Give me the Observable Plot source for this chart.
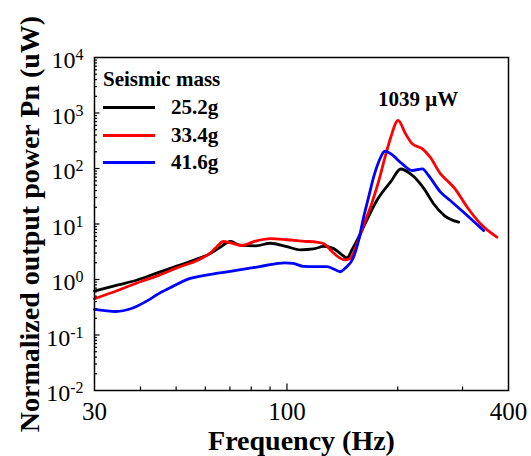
<!DOCTYPE html>
<html><head><meta charset="utf-8">
<script src="https://cdn.jsdelivr.net/npm/d3@7"></script>
<script src="https://cdn.jsdelivr.net/npm/@observablehq/plot@0.6"></script>
<style>
html,body{margin:0;padding:0;background:#fff;}
#chart{position:relative;width:531px;height:456px;font-family:"Liberation Serif","Times New Roman",serif;}
#legend{position:absolute;left:103px;top:66px;font-weight:bold;font-size:21px;color:#000;line-height:1;}
#legend .row{display:flex;align-items:center;height:27.7px;}
#legend .sw{width:52px;height:3px;margin-right:16px;}
</style></head><body><div id="chart"></div>
<script>
// ---- data ----
const seriesNames = ["25.2g", "33.4g", "41.6g"];
const seriesColors = ["#000000", "#ff0000", "#0000ff"];
const legendTitle = "Seismic mass";
const peakLabel = "1039 μW";
const xTitle = "Frequency (Hz)";
const yTitle = "Normalized output power Pn (uW)";
const xTickLabels = [30, 100, 400];
const yTickLabels = [1e-2, 1e-1, 1e0, 1e1, 1e2, 1e3, 1e4];

const freqBlack  = [30, 34.8, 39.2, 43.5, 50, 56, 61, 65, 70.3, 74.6, 82.4, 90.2, 100, 108.8, 118, 126, 134, 140, 145.6, 150.5, 155, 164.6, 175.5, 191.5, 203.9, 216.7, 236, 250, 267.8, 293];
const powerBlack = [0.62, 0.8, 0.98, 1.25, 1.72, 2.25, 2.8, 3.6, 4.84, 4.15, 4.05, 4.5, 3.9, 3.43, 3.55, 3.95, 3.6, 2.9, 2.46, 3.5, 5.04, 11.5, 26.5, 58, 98, 80, 43, 23.4, 14.2, 10.8];

const freqRed  = [30, 34.8, 40.3, 45, 50, 57.8, 61.3, 64, 67.3, 70, 75.4, 82, 90.2, 100, 110, 120.6, 126, 133.2, 139, 144.3, 148.6, 155, 161.6, 170.2, 177.4, 185, 191.5, 200.5, 210, 219, 233.6, 245, 261.5, 275.4, 284, 309, 335.6, 372];
const powerRed = [0.45, 0.64, 0.93, 1.2, 1.6, 2.3, 2.85, 3.7, 4.84, 4.6, 4.1, 4.9, 5.45, 5.2, 4.9, 4.7, 4.4, 3.1, 2.45, 2.25, 2.4, 4.4, 9.5, 24, 58, 165, 366, 735, 422, 279, 226, 160, 80, 56.7, 46, 20, 10.1, 5.8];

const freqBlue  = [30, 32, 34.3, 37.8, 41.9, 44.3, 48, 54.6, 59.3, 65, 74.9, 85, 98.6, 104, 111, 120, 128.4, 134, 139.5, 144, 151.7, 156.6, 161.6, 166.7, 172, 177.4, 185, 191.5, 205.8, 219, 233.6, 242.5, 261.5, 281.3, 302, 342.5];
const powerBlue = [0.29, 0.275, 0.265, 0.3, 0.42, 0.53, 0.7, 1.05, 1.18, 1.3, 1.5, 1.72, 2.0, 1.95, 1.72, 1.7, 1.7, 1.55, 1.38, 1.6, 2.52, 5.04, 13.3, 30.4, 69.8, 130, 205, 184, 121, 92, 98.6, 74.8, 37.5, 24.7, 16.3, 7.6];

// ---- tidy table ----
const seriesData = [[freqBlack, powerBlack], [freqRed, powerRed], [freqBlue, powerBlue]];
const rows = [];
seriesData.forEach(([fs, ps], i) => fs.forEach((f, j) => rows.push({series: seriesNames[i], f, p: ps[j]})));
const peak = d3.greatest(rows, d => d.p);

// ---- layout ----
const W = 531, H = 456, mL = 94, mR = 23, mT = 57, mB = 66;
const pw = W - mL - mR, ph = H - mT - mB;
const xDomain = [30, 400], yDomain = [1e-2, 1e4];
const xAll = d3.scaleLog().domain(xDomain).ticks();
const yAll = d3.scaleLog().domain(yDomain).ticks();
const isPow10 = v => Math.abs(Math.log10(v) - Math.round(Math.log10(v))) < 1e-9;
const xMinor = xAll.filter(v => !isPow10(v) && v > xDomain[0] && v < xDomain[1]);
const xMajor = xAll.filter(v => isPow10(v));
const yMinor = yAll.filter(v => !isPow10(v));
const yMajor = yAll.filter(v => isPow10(v) && v > yDomain[0] && v < yDomain[1]);
const font = "Liberation Serif, Times New Roman, serif";

const chart = Plot.plot({
  width: W, height: H,
  marginLeft: mL, marginRight: mR, marginTop: mT, marginBottom: mB,
  style: {fontFamily: font, background: "#fff", color: "#000"},
  x: {type: "log", domain: xDomain, label: null},
  y: {type: "log", domain: yDomain, label: null},
  color: {domain: seriesNames, range: seriesColors},
  marks: [
    Plot.tickX(xMinor, {x: d => d, insetTop: ph - 3.5, stroke: "#000", strokeWidth: 1.2}),
    Plot.tickX(xMajor, {x: d => d, insetTop: ph - 6.5, stroke: "#000", strokeWidth: 1.2}),
    Plot.tickY(yMinor, {y: d => d, insetRight: pw - 3, stroke: "#000", strokeWidth: 1.2}),
    Plot.tickY(yMajor, {y: d => d, insetRight: pw - 5.5, stroke: "#000", strokeWidth: 1.2}),
    Plot.axisX(xTickLabels, {tickSize: 0, tickPadding: 12, fontSize: 25, tickFormat: d => String(d), label: null}),
    Plot.axisY(yTickLabels, {tickSize: 0, tickPadding: 11, dy: 3, fontSize: 24, tickFormat: d => "10^" + Math.round(Math.log10(d)), label: null}),
    Plot.line(rows, {x: "f", y: "p", z: "series", stroke: "series", curve: "monotone-x", strokeWidth: 2.8}),
    Plot.frame({stroke: "#000", strokeWidth: 1.5}),
    Plot.text([peak], {x: "f", y: "p", text: () => peakLabel, dx: 20, dy: -21, fontWeight: "bold", fontSize: 21, textAnchor: "middle", lineAnchor: "middle"}),
    Plot.text([yTitle], {text: d => d, frameAnchor: "left", rotate: -90, dx: -64, fontSize: 28, fontWeight: "bold", textAnchor: "middle", lineAnchor: "middle"}),
    Plot.text([xTitle], {text: d => d, frameAnchor: "bottom", dy: 51, fontSize: 28, fontWeight: "bold", textAnchor: "middle", lineAnchor: "middle"})
  ]
});

// superscript exponents on y tick labels
const SVGNS = "http://www.w3.org/2000/svg";
chart.querySelectorAll('g[aria-label="y-axis tick label"] text').forEach(t => {
  const s = t.textContent;
  const m = s.match(/^10\^(-?\d+)$/);
  if (!m) return;
  t.textContent = "10";
  const sup = document.createElementNS(SVGNS, "tspan");
  sup.setAttribute("dy", "-0.5em");
  sup.setAttribute("font-size", "16");
  sup.textContent = m[1];
  t.appendChild(sup);
});

const root = document.getElementById("chart");
root.appendChild(chart);

// legend
const legend = document.createElement("div");
legend.id = "legend";
const title = document.createElement("div");
title.className = "row";
title.textContent = legendTitle;
legend.appendChild(title);
seriesNames.forEach((name, i) => {
  const row = document.createElement("div");
  row.className = "row";
  const sw = document.createElement("span");
  sw.className = "sw";
  sw.style.background = seriesColors[i];
  const lab = document.createElement("span");
  lab.textContent = name;
  row.appendChild(sw);
  row.appendChild(lab);
  legend.appendChild(row);
});
root.appendChild(legend);
</script>
</body></html>
